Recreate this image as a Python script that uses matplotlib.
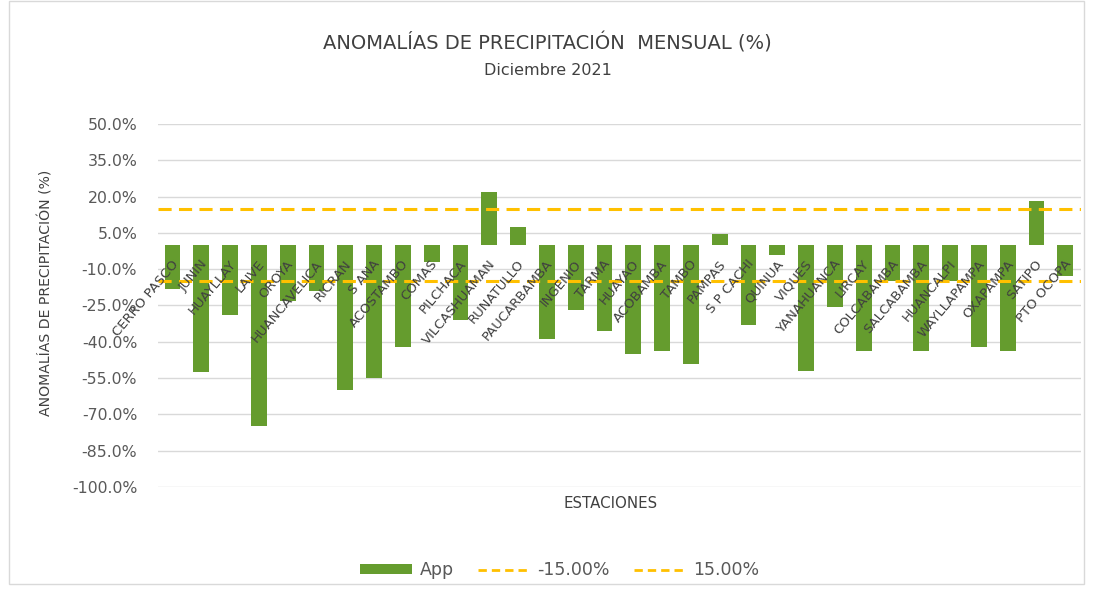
import matplotlib
matplotlib.use("Agg")
import matplotlib.pyplot as plt
from matplotlib.patches import Patch, Rectangle
from matplotlib.lines import Line2D
import numpy as np

stations = ["CERRO PASCO", "JUNIN", "HUAYLLAY", "LAIVE", "OROYA", "HUANCAVELICA",
            "RICRAN", "S ANA", "ACOSTAMBO", "COMAS", "PILCHACA", "VILCASHUAMAN",
            "RUNATULLO", "PAUCARBAMBA", "INGENIO", "TARMA", "HUAYAO", "ACOBAMBA",
            "TAMBO", "PAMPAS", "S P CACHI", "QUINUA", "VIQUES", "YANAHUANCA",
            "LIRCAY", "COLCABAMBA", "SALCABAMBA", "HUANCALPI", "WAYLLAPAMPA",
            "OXAPAMPA", "SATIPO", "PTO OCOPA"]
app = [-18.0, -52.5, -29.0, -75.0, -23.0, -19.0,
       -60.0, -55.0, -42.0, -7.0, -31.0, 22.0,
       7.5, -39.0, -27.0, -35.5, -45.0, -44.0,
       -49.0, 4.5, -33.0, -4.0, -52.0, -25.5,
       -44.0, -15.0, -44.0, -15.0, -42.0,
       -44.0, 18.0, -13.0]
low_thr = -15.0
high_thr = 15.0
yticks = [50, 35, 20, 5, -10, -25, -40, -55, -70, -85, -100]

GREEN = "#659C2E"
YELLOW = "#FFC000"
TXT = "#595959"
DARK = "#404040"

plt.rcParams['font.family'] = ['DejaVu Sans']
fig = plt.figure(figsize=(10.93, 5.89), dpi=100)
ax = fig.add_axes([0.1446, 0.1732, 0.8445, 0.6163])

x = np.arange(len(stations))
ax.bar(x, app, width=0.55, color=GREEN, zorder=2)
dash = (0, (4.3, 2.4))
ax.axhline(low_thr, color=YELLOW, lw=2.2, ls=dash, zorder=3)
ax.axhline(high_thr, color=YELLOW, lw=2.2, ls=dash, zorder=3)

ax.set_xlim(-0.5, len(stations) - 0.45)
ax.set_ylim(-100, 50)
ax.set_yticks(yticks)
ax.set_yticklabels([f"{v:.1f}%" for v in yticks], color=TXT, fontsize=11.3)
ax.tick_params(axis='y', length=0, pad=15)
ax.set_xticks([])
for s in ax.spines.values():
    s.set_visible(False)
ax.yaxis.grid(True, color="#D9D9D9", lw=1)
ax.set_axisbelow(True)

for xi, name in zip(x, stations):
    ax.annotate(name, xy=(xi, 0), xytext=(-1, -9), textcoords='offset points',
                rotation=50, rotation_mode='anchor', ha='right', va='top',
                fontsize=9.5, color=DARK, zorder=4)

fig.text(0.501, 0.927, "ANOMALÍAS DE PRECIPITACIÓN  MENSUAL (%)", ha='center', va='center',
         fontsize=14, color=DARK)
fig.text(0.501, 0.881, "Diciembre 2021", ha='center', va='center', fontsize=11.5, color=DARK)
fig.text(0.042, 0.502, "ANOMALÍAS DE PRECIPITACIÓN (%)", rotation=90, ha='center', va='center',
         fontsize=10.1, color=DARK)
fig.text(0.559, 0.146, "ESTACIONES", ha='center', va='center', fontsize=10.8, color=DARK)

handles = [Patch(facecolor=GREEN, edgecolor='none'),
           Line2D([0], [0], color=YELLOW, lw=2.0, ls=(0, (3, 1.8))),
           Line2D([0], [0], color=YELLOW, lw=2.0, ls=(0, (3, 1.8)))]
labels = ["App", f"{low_thr:.2f}%", f"{high_thr:.2f}%"]
leg = fig.legend(handles, labels, loc='center', bbox_to_anchor=(0.512, 0.032), ncol=3,
                 frameon=False, fontsize=12.5, handlelength=3.0, handleheight=0.45,
                 columnspacing=1.4, handletextpad=0.4, labelcolor=TXT)

fig.patches.append(Rectangle((0.008, 0.008), 0.984, 0.99, transform=fig.transFigure,
                             fill=False, edgecolor="#D9D9D9", lw=1))

fig.savefig("out.png", dpi=100)
